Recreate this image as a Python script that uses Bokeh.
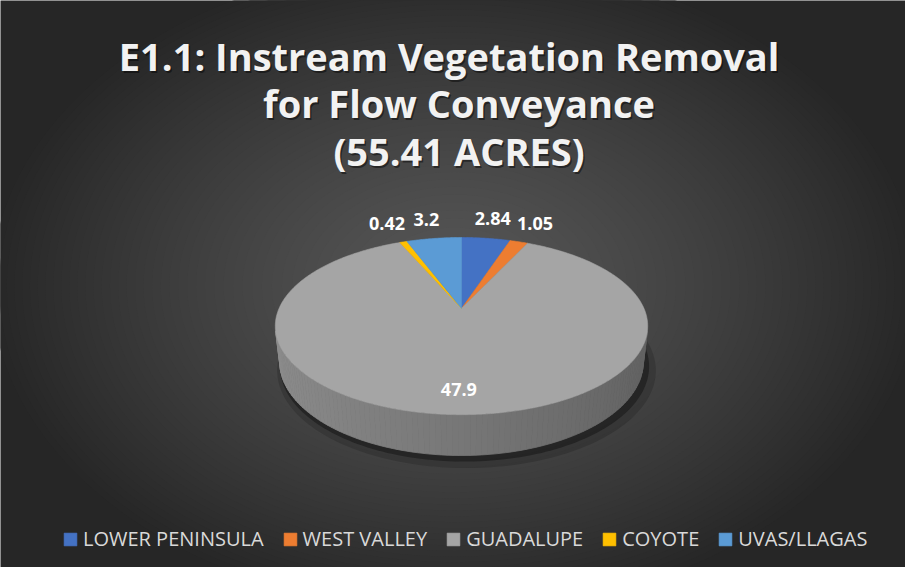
import numpy as np
from bokeh.plotting import figure
from bokeh.models import Range1d, ColumnDataSource, Legend, LegendItem
from bokeh.core.properties import value
from bokeh.embed import file_html
from bokeh.resources import INLINE

# ---------------- data ----------------
categories = ["LOWER PENINSULA", "WEST VALLEY", "GUADALUPE", "COYOTE", "UVAS/LLAGAS"]
acres = [2.84, 1.05, 47.9, 0.42, 3.2]
label_text = ["2.84", "1.05", "47.9", "0.42", "3.2"]
colors = ["#4472C4", "#ED7D31", "#A5A5A5", "#FFC000", "#5B9BD5"]
title_lines = ["E1.1: Instream  Vegetation  Removal", "for Flow Conveyance", "(55.41 ACRES)"]

# ---------------- figure (data units == page pixels) ----------------
W, H = 905, 567
p = figure(width=W, height=H, x_range=Range1d(8, 8 + W), y_range=Range1d(8 + H, 8),
           output_backend="svg", toolbar_location=None, min_border=0,
           x_axis_location=None, y_axis_location=None,
           background_fill_color="#262626", border_fill_color="#262626",
           outline_line_color=None)
p.grid.visible = False

# ---------------- radial gradient background ----------------
gcx, gcy = 462.0, 293.5
v_out, v_in, gamma = 38, 86, 1.3
ew, eh, ec = [], [], []
for lev in range(v_out + 1, v_in + 1):
    d = ((v_in - lev) / (v_in - v_out)) ** (1 / gamma)
    ew.append(2 * d * 470 + 1)
    eh.append(2 * d * 330 + 1)
    ec.append("#%02x%02x%02x" % (lev, lev, lev))
p.ellipse(x=[gcx] * len(ew), y=[gcy] * len(ew), width=ew, height=eh,
          fill_color=ec, line_color=None)

# ---------------- 3D pie projection ----------------
CX, CY = 469.0, 316.0
ALPHA = np.radians(27.8)
DIST = 4.46
FOC = 182.5 * DIST
THICK = 0.224


def project(phi, r=1.0, z=0.0):
    X = r * np.sin(phi)
    Yd = r * np.cos(phi)
    up = Yd * np.sin(ALPHA) + z * np.cos(ALPHA)
    depth = DIST + Yd * np.cos(ALPHA) - z * np.sin(ALPHA)
    return CX + FOC * X / depth, CY - FOC * up / depth


def rgb(hexc, f=1.0):
    h = hexc.lstrip("#")
    c = [min(255, int(round(int(h[i:i + 2], 16) * f))) for i in (0, 2, 4)]
    return "#%02x%02x%02x" % tuple(c)


total = float(sum(acres))
cum = np.concatenate([[0.0], np.cumsum(acres)])
phi0 = 2 * np.pi * cum[:-1] / total
phi1 = 2 * np.pi * cum[1:] / total

# soft shadow under pie (towards lower right)
full = np.linspace(0, 2 * np.pi, 240)
for scale, dx, dy, alpha in [(1.04, 5, 7, 0.18), (1.015, 3, 4, 0.4)]:
    sx, sy = project(full, scale, -THICK)
    p.patch(sx + dx, sy + dy, fill_color="#0a0a0a", fill_alpha=alpha, line_color=None)

# visible side wall
phi_lo = np.arccos(-1.0 / (DIST * np.cos(ALPHA)))
phi_hi = 2 * np.pi - phi_lo
side_xs, side_ys, side_c = [], [], []
for i in range(len(acres)):
    a, b = max(phi0[i], phi_lo), min(phi1[i], phi_hi)
    if a >= b:
        continue
    n = int(np.ceil((b - a) / np.radians(1.5)))
    ts = np.linspace(a, b, n + 1)
    for t0, t1 in zip(ts[:-1], ts[1:]):
        tx0, ty0 = project(np.array([t0, t1]), 1.0, 0.0)
        bx0, by0 = project(np.array([t1, t0]), 1.0, -THICK)
        side_xs.append(list(tx0) + list(bx0))
        side_ys.append(list(ty0) + list(by0))
        tm = 0.5 * (t0 + t1)
        side_c.append(rgb(colors[i], 0.72 - 0.13 * np.sin(tm)))
p.patches(xs=side_xs, ys=side_ys, fill_color=side_c, line_color=side_c, line_width=0.8)

# top face wedges
top_xs, top_ys = [], []
for i in range(len(acres)):
    n = max(2, int(np.ceil((phi1[i] - phi0[i]) / np.radians(0.5))))
    ts = np.linspace(phi0[i], phi1[i], n + 1)
    rx, ry = project(ts, 1.0, 0.0)
    top_xs.append([CX] + list(rx))
    top_ys.append([CY] + list(ry))
top_src = ColumnDataSource(dict(xs=top_xs, ys=top_ys, color=colors, name=categories))
top_r = p.patches(xs="xs", ys="ys", fill_color="color", line_color="color", line_width=0.6,
                  source=top_src)

# data labels
lx, ly = [], []
for i, v in enumerate(acres):
    mid = 0.5 * (phi0[i] + phi1[i])
    r = 0.8 if v / total > 0.25 else 1.35
    x, y = project(mid, r, 0.0)
    lx.append(float(x))
    ly.append(float(y))
p.text(x=lx, y=ly, text=label_text, text_align="center", text_baseline="middle",
       text_font=value("Open Sans"), text_font_style="bold", text_font_size="18px",
       text_color="#ffffff")

# title
tx = [466.5] * 3
ty = [63, 110, 158]
p.text(x=[t + 1.5 for t in tx], y=[t + 2 for t in ty], text=title_lines, text_align="center",
       text_baseline="middle", text_font=value("Open Sans"), text_font_style="bold",
       text_font_size="38px", text_color="#000000", text_alpha=0.45)
p.text(x=tx, y=ty, text=title_lines, text_align="center", text_baseline="middle",
       text_font=value("Open Sans"), text_font_style="bold", text_font_size="38px",
       text_color="#f2f2f2")

# legend
legend = Legend(items=[LegendItem(label=c, renderers=[top_r], index=i)
                       for i, c in enumerate(categories)],
                orientation="horizontal", location=(62, 15),
                label_text_font="Open Sans", label_text_font_size="20px",
                label_text_color="#d9d9d9", glyph_width=16, glyph_height=16,
                label_standoff=5, spacing=18, padding=0, margin=0, label_height=20,
                background_fill_alpha=0, border_line_alpha=0)
p.add_layout(legend, "center")

open("out.html", "w").write(file_html(p, INLINE))
